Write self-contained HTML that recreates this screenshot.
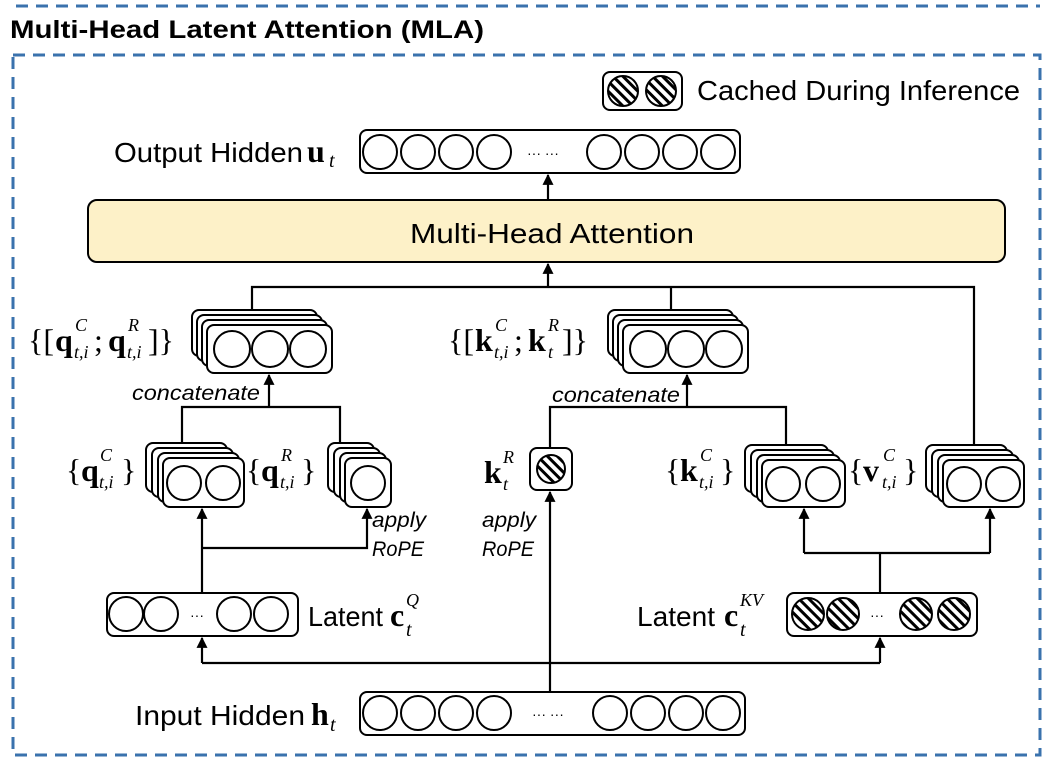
<!DOCTYPE html>
<html><head><meta charset="utf-8"><style>
html,body{margin:0;padding:0;background:#fff;}
svg{display:block;}
.s{font-family:"Liberation Sans",sans-serif;}
.m{font-family:"Liberation Serif",serif;}
</style></head><body>
<svg width="1050" height="774" viewBox="0 0 1050 774" xmlns="http://www.w3.org/2000/svg">
<defs>
<pattern id="h" width="7" height="7" patternUnits="userSpaceOnUse" patternTransform="rotate(-45)">
<rect width="7" height="7" fill="#fff"/><rect width="3" height="7" fill="#000"/>
</pattern>
<marker id="a" viewBox="0 0 10 10" refX="9" refY="5" markerWidth="5" markerHeight="5" orient="auto"><path d="M0,0 L10,5 L0,10 z" fill="#000"/></marker>
</defs>
<g fill="none" stroke="#3a72ad" stroke-width="3" stroke-dasharray="12,8">
<line x1="16" y1="6" x2="1040" y2="6"/>
<rect x="13" y="55" width="1027" height="700"/>
</g>
<text x="10" y="38" class="s" font-size="25" font-weight="bold" textLength="474" lengthAdjust="spacingAndGlyphs">Multi-Head Latent Attention (MLA)</text>

<rect x="603" y="72" width="79" height="38" rx="7" fill="#fff" stroke="#000" stroke-width="2"/>
<circle cx="623" cy="91" r="15" fill="url(#h)" stroke="#000" stroke-width="2"/>
<circle cx="661" cy="91" r="15" fill="url(#h)" stroke="#000" stroke-width="2"/>
<text x="697" y="100" class="s" font-size="28" textLength="323" lengthAdjust="spacingAndGlyphs">Cached During Inference</text>

<g stroke="#000" stroke-width="2.2" fill="none">
<line x1="548" y1="200" x2="548" y2="175" marker-end="url(#a)"/>
<line x1="548" y1="287" x2="548" y2="264" marker-end="url(#a)"/>
<polyline points="252,310 252,287 974,287 974,445"/>
<line x1="671" y1="287" x2="671" y2="310"/>
<line x1="269" y1="407" x2="269" y2="375" marker-end="url(#a)"/>
<polyline points="182,443 182,407 340,407 340,443"/>
<line x1="687" y1="407" x2="687" y2="375" marker-end="url(#a)"/>
<polyline points="550,448 550,407 786,407 786,448"/>
<line x1="202" y1="593" x2="202" y2="509" marker-end="url(#a)"/>
<polyline points="202,548 367,548 367,509" marker-end="url(#a)"/>
<line x1="550" y1="692" x2="550" y2="492" marker-end="url(#a)"/>
<polyline points="202,663 880,663"/>
<line x1="202" y1="663" x2="202" y2="638" marker-end="url(#a)"/>
<line x1="880" y1="663" x2="880" y2="638" marker-end="url(#a)"/>
<line x1="880" y1="593" x2="880" y2="553"/>
<polyline points="804,553 990,553"/>
<line x1="804" y1="553" x2="804" y2="509" marker-end="url(#a)"/>
<line x1="990" y1="553" x2="990" y2="509" marker-end="url(#a)"/>
</g>

<rect x="360" y="130" width="380" height="43" rx="7" fill="#fff" stroke="#000" stroke-width="2"/>
<g fill="#fff" stroke="#000" stroke-width="2">
<circle cx="380" cy="152" r="17"/><circle cx="418" cy="152" r="17"/><circle cx="456" cy="152" r="17"/><circle cx="494" cy="152" r="17"/>
<circle cx="604" cy="152" r="17"/><circle cx="642" cy="152" r="17"/><circle cx="680" cy="152" r="17"/><circle cx="718" cy="152" r="17"/>
</g>
<text x="527" y="158" class="s" font-size="14">··· ···</text>
<text x="114" y="162" class="s" font-size="28" textLength="189" lengthAdjust="spacingAndGlyphs">Output Hidden</text>
<text x="307" y="162" class="m" font-size="32" font-weight="bold">u</text><text x="329" y="167" class="m" font-size="20" font-style="italic">t</text>

<rect x="88" y="200" width="917" height="62" rx="9" fill="#fdf1c8" stroke="#000" stroke-width="2"/>
<text x="410" y="243" class="s" font-size="28" textLength="284" lengthAdjust="spacingAndGlyphs">Multi-Head Attention</text>

<g fill="#fff" stroke="#000" stroke-width="2">
<rect x="192" y="310" width="125" height="46" rx="7"/><rect x="197" y="315" width="125" height="46" rx="7"/><rect x="202" y="320" width="125" height="46" rx="7"/><rect x="207" y="325" width="125" height="48" rx="7"/>
<circle cx="232" cy="349" r="18"/><circle cx="270" cy="349" r="18"/><circle cx="308" cy="349" r="18"/>
<rect x="608" y="310" width="125" height="46" rx="7"/><rect x="613" y="315" width="125" height="46" rx="7"/><rect x="618" y="320" width="125" height="46" rx="7"/><rect x="623" y="325" width="125" height="48" rx="7"/>
<circle cx="648" cy="349" r="18"/><circle cx="686" cy="349" r="18"/><circle cx="724" cy="349" r="18"/>

<rect x="146" y="443" width="81" height="49" rx="7"/><rect x="152" y="448" width="81" height="49" rx="7"/><rect x="158" y="453" width="81" height="49" rx="7"/><rect x="163" y="458" width="81" height="49" rx="7"/>
<circle cx="184" cy="483" r="17"/><circle cx="223" cy="483" r="17"/>
<rect x="328" y="443" width="46" height="49" rx="7"/><rect x="334" y="448" width="46" height="49" rx="7"/><rect x="340" y="453" width="46" height="49" rx="7"/><rect x="345" y="458" width="46" height="49" rx="7"/>
<circle cx="368" cy="483" r="17"/>

<rect x="530" y="448" width="42" height="42" rx="7"/>
<circle cx="551" cy="469" r="14" fill="url(#h)"/>

<rect x="745" y="445" width="83" height="47" rx="7"/><rect x="751" y="450" width="83" height="47" rx="7"/><rect x="757" y="455" width="83" height="47" rx="7"/><rect x="762" y="460" width="83" height="47" rx="7"/>
<circle cx="783" cy="484" r="17"/><circle cx="823" cy="484" r="17"/>
<rect x="926" y="445" width="81" height="47" rx="7"/><rect x="932" y="450" width="81" height="47" rx="7"/><rect x="938" y="455" width="81" height="47" rx="7"/><rect x="943" y="460" width="81" height="47" rx="7"/>
<circle cx="964" cy="484" r="17"/><circle cx="1003" cy="484" r="17"/>

<rect x="107" y="593" width="191" height="43" rx="7"/>
<circle cx="126" cy="614" r="17"/><circle cx="161" cy="614" r="17"/><circle cx="234" cy="614" r="17"/><circle cx="271" cy="614" r="17"/>
<rect x="787" y="593" width="190" height="43" rx="7"/>
<circle cx="808" cy="614" r="16" fill="url(#h)"/><circle cx="843" cy="614" r="16" fill="url(#h)"/><circle cx="916" cy="614" r="16" fill="url(#h)"/><circle cx="954" cy="614" r="16" fill="url(#h)"/>

<rect x="360" y="692" width="385" height="43" rx="7"/>
<circle cx="380" cy="713" r="17"/><circle cx="418" cy="713" r="17"/><circle cx="456" cy="713" r="17"/><circle cx="494" cy="713" r="17"/>
<circle cx="610" cy="713" r="17"/><circle cx="648" cy="713" r="17"/><circle cx="686" cy="713" r="17"/><circle cx="723" cy="713" r="17"/>
</g>
<text x="190" y="620" class="s" font-size="14">···</text>
<text x="870" y="620" class="s" font-size="14">···</text>
<text x="532" y="719" class="s" font-size="14">··· ···</text>

<text x="308" y="626" class="s" font-size="28" textLength="75" lengthAdjust="spacingAndGlyphs">Latent</text>
<text x="390" y="626" class="m" font-size="32" font-weight="bold">c</text><text x="406" y="606" class="m" font-size="18" font-style="italic">Q</text><text x="406" y="636" class="m" font-size="20" font-style="italic">t</text>
<text x="637" y="626" class="s" font-size="28" textLength="78" lengthAdjust="spacingAndGlyphs">Latent</text>
<text x="724" y="626" class="m" font-size="32" font-weight="bold">c</text><text x="740" y="606" class="m" font-size="18" font-style="italic">KV</text><text x="740" y="636" class="m" font-size="20" font-style="italic">t</text>
<text x="135" y="725" class="s" font-size="28" textLength="170" lengthAdjust="spacingAndGlyphs">Input Hidden</text>
<text x="311" y="725" class="m" font-size="32" font-weight="bold">h</text><text x="330" y="731" class="m" font-size="20" font-style="italic">t</text>

<g class="m" font-size="32">
<text x="28" y="351">{[</text><text x="55" y="351" font-weight="bold">q</text>
<text x="75" y="331" font-size="18" font-style="italic">C</text><text x="74" y="358" font-size="18" font-style="italic">t,i</text>
<text x="94" y="351">;</text><text x="108" y="351" font-weight="bold">q</text>
<text x="128" y="331" font-size="18" font-style="italic">R</text><text x="127" y="358" font-size="18" font-style="italic">t,i</text>
<text x="148" y="351">]}</text>

<text x="448" y="351">{[</text><text x="475" y="351" font-weight="bold">k</text>
<text x="495" y="331" font-size="18" font-style="italic">C</text><text x="494" y="358" font-size="18" font-style="italic">t,i</text>
<text x="514" y="351">;</text><text x="528" y="351" font-weight="bold">k</text>
<text x="548" y="331" font-size="18" font-style="italic">R</text><text x="548" y="358" font-size="18" font-style="italic">t</text>
<text x="562" y="351">]}</text>

<text x="66" y="481">{</text><text x="81" y="481" font-weight="bold">q</text>
<text x="100" y="461" font-size="18" font-style="italic">C</text><text x="99" y="488" font-size="18" font-style="italic">t,i</text>
<text x="121" y="481">}</text>
<text x="246" y="481">{</text><text x="261" y="481" font-weight="bold">q</text>
<text x="281" y="461" font-size="18" font-style="italic">R</text><text x="280" y="488" font-size="18" font-style="italic">t,i</text>
<text x="301" y="481">}</text>

<text x="484" y="483" font-weight="bold">k</text>
<text x="503" y="463" font-size="18" font-style="italic">R</text><text x="503" y="490" font-size="18" font-style="italic">t</text>

<text x="665" y="481">{</text><text x="680" y="481" font-weight="bold">k</text>
<text x="700" y="461" font-size="18" font-style="italic">C</text><text x="699" y="488" font-size="18" font-style="italic">t,i</text>
<text x="720" y="481">}</text>
<text x="848" y="481">{</text><text x="863" y="481" font-weight="bold">v</text>
<text x="883" y="461" font-size="18" font-style="italic">C</text><text x="882" y="488" font-size="18" font-style="italic">t,i</text>
<text x="903" y="481">}</text>
</g>

<g class="s" font-size="21" font-style="italic">
<text x="132" y="400" textLength="128" lengthAdjust="spacingAndGlyphs">concatenate</text>
<text x="552" y="402" textLength="128" lengthAdjust="spacingAndGlyphs">concatenate</text>
<text x="372" y="527" textLength="54" lengthAdjust="spacingAndGlyphs">apply</text><text x="372" y="556" textLength="52" lengthAdjust="spacingAndGlyphs">RoPE</text>
<text x="482" y="527" textLength="54" lengthAdjust="spacingAndGlyphs">apply</text><text x="482" y="556" textLength="52" lengthAdjust="spacingAndGlyphs">RoPE</text>
</g>
</svg>
</body></html>
